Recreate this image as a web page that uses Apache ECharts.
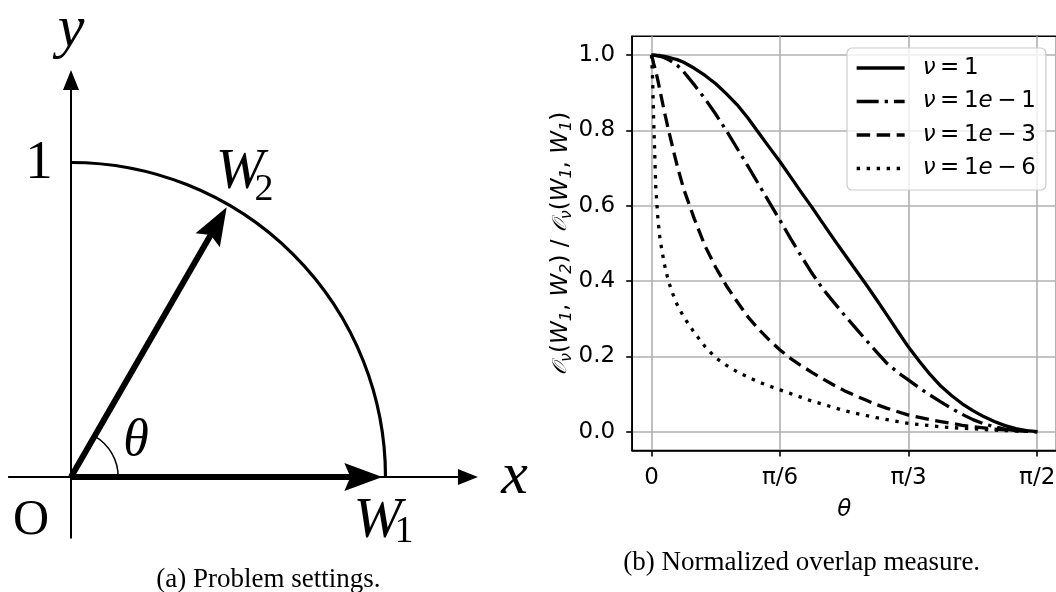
<!DOCTYPE html>
<html><head><meta charset="utf-8">
<script src="https://cdn.jsdelivr.net/npm/echarts@6/dist/echarts.min.js"></script>
<style>html,body{margin:0;padding:0;background:#fff;}#c{width:1056px;height:592px;}</style>
</head><body><div id="c"></div>
<script>
// ---------------- data ----------------
const thetaDeg = [0,0.25,0.5,1,1.5,2,3,4,5,6,7.5,10,12.5,15,17.5,20,22.5,25,27.5,30,32.5,35,37.5,40,42.5,45,47.5,50,52.5,55,57.5,60,62.5,65,67.5,70,72.5,75,77.5,80,82.5,85,87.5,90];
const nu1 = [1.000,1.000,1.000,1.000,0.999,0.999,0.997,0.994,0.991,0.988,0.981,0.965,0.946,0.924,0.897,0.868,0.833,0.794,0.755,0.717,0.676,0.635,0.595,0.553,0.512,0.472,0.432,0.392,0.351,0.309,0.266,0.224,0.187,0.152,0.121,0.096,0.074,0.056,0.040,0.027,0.016,0.008,0.003,0.000];
const nu1e1 = [1.000,1.000,1.000,0.999,0.998,0.997,0.993,0.988,0.981,0.973,0.956,0.921,0.884,0.843,0.799,0.752,0.705,0.657,0.609,0.561,0.512,0.465,0.420,0.379,0.344,0.310,0.277,0.244,0.212,0.181,0.157,0.137,0.116,0.097,0.079,0.062,0.046,0.032,0.021,0.013,0.007,0.003,0.001,0.000];
const nu1e3 = [1.000,0.990,0.978,0.957,0.932,0.905,0.850,0.800,0.752,0.706,0.645,0.565,0.493,0.436,0.387,0.345,0.305,0.272,0.243,0.217,0.194,0.175,0.157,0.140,0.124,0.109,0.096,0.084,0.072,0.062,0.053,0.044,0.038,0.032,0.027,0.022,0.017,0.013,0.010,0.007,0.005,0.003,0.001,0.000];
const nu1e6 = [1.000,0.940,0.830,0.650,0.565,0.510,0.445,0.398,0.365,0.337,0.305,0.263,0.226,0.196,0.176,0.159,0.145,0.132,0.121,0.111,0.101,0.091,0.081,0.073,0.064,0.056,0.049,0.043,0.037,0.032,0.027,0.022,0.019,0.016,0.013,0.011,0.009,0.008,0.006,0.004,0.003,0.002,0.001,0.000];
const seriesNames = ['ν\u2009=\u20091', 'ν\u2009=\u20091e\u2009−\u20091', 'ν\u2009=\u20091e\u2009−\u20093', 'ν\u2009=\u20091e\u2009−\u20096'];
const xTickValues = [0, 30, 60, 90];
const xTickLabels = ['0', 'π/6', 'π/3', 'π/2'];
const yTickValues = [0, 0.2, 0.4, 0.6, 0.8, 1.0];

// diagram (panel a), in unit-circle coordinates
const diagAngleDeg = 60;          // angle between W1 and W2
const diagVectorLength = 0.99;    // W1, W2 tips
const diagArcRadius = 1.0;        // quarter circle
const diagThetaArcRadius = 0.15;  // small angle arc
const diagXAxisSpan = [-0.2, 1.294];
const diagYAxisSpan = [-0.196, 1.294];

// ---------------- styles / layout ----------------
const SERIF = '"Liberation Serif", "DejaVu Serif", serif';
const SANS = '"DejaVu Sans", sans-serif';
const lineStyles = [
  { type: 'solid' },
  { type: [22, 6, 3.3, 6] },
  { type: [13.5, 6.5] },
  { type: [3.4, 6.6] }
];
const diagLabelLayout = [
  { name: 'y', at: [0, 1.421], size: 60, italic: true },
  { name: 'x', at: [1.41, 0.0], size: 60, italic: true },
  { name: '1', at: [-0.102, 0.998], size: 55, italic: false },
  { name: 'O', at: [-0.127, -0.14], size: 50, italic: false },
  { name: 'θ', at: [0.207, 0.114], size: 52, italic: true },
  { name: 'W', at: [0.537, 0.968], size: 58, italic: true },
  { name: '2', at: [0.614, 0.913], size: 38, italic: false },
  { name: 'W', at: [0.975, -0.143], size: 58, italic: true },
  { name: '1', at: [1.059, -0.175], size: 38, italic: false }
];

const chart = echarts.init(document.getElementById('c'), null, { renderer: 'canvas' });

const yName = '{o|𝒪}{s|ν}{n|(}{i|W}{s|1}{n|, }{i|W}{s|2}{n|) / }{o|𝒪}{s|ν}{n|(}{i|W}{s|1}{n|, }{i|W}{s|1}{n|)}';

const base = {
  animation: false,
  backgroundColor: '#fff',
  grid: [
    { left: 632.2, top: 36.3, width: 424.3, height: 414.2, show: true, borderColor: '#000', borderWidth: 1.6, backgroundColor: 'transparent', containLabel: false, outerBoundsMode: 'none' },
    { left: 8.1, top: 5.25, width: 534.65, height: 581.8, show: false, containLabel: false, outerBoundsMode: 'none' }
  ],
  xAxis: [
    {
      type: 'value', gridIndex: 0, min: -4.5, max: 94.5,
      axisLine: { show: true, onZero: false, lineStyle: { color: '#000', width: 1.6 } },
      axisTick: { show: true, length: 6, customValues: xTickValues, lineStyle: { color: '#000', width: 1.6 } },
      axisLabel: { customValues: xTickValues, margin: 16, color: '#000', fontSize: 23, fontFamily: SANS,
        formatter: v => xTickLabels[xTickValues.indexOf(Math.round(v))] || '' },
      splitLine: { show: true, lineStyle: { color: '#b0b0b0', width: 1.6 } },
      name: 'θ', nameLocation: 'middle', nameGap: 48,
      nameTextStyle: { fontFamily: SANS, fontSize: 23, fontStyle: 'italic', color: '#000' }
    },
    { type: 'value', gridIndex: 1, min: -0.2, max: 1.5, show: false }
  ],
  yAxis: [
    {
      type: 'value', gridIndex: 0, min: -0.05, max: 1.05,
      axisLine: { show: true, onZero: false, lineStyle: { color: '#000', width: 1.6 } },
      axisTick: { show: true, length: 6, customValues: yTickValues, lineStyle: { color: '#000', width: 1.6 } },
      axisLabel: { customValues: yTickValues, margin: 17, color: '#000', fontSize: 23, fontFamily: SANS,
        formatter: v => v.toFixed(1) },
      splitLine: { show: true, lineStyle: { color: '#b0b0b0', width: 1.6 } },
      name: yName, nameLocation: 'middle', nameGap: 57,
      nameTextStyle: {
        color: '#000', fontFamily: SANS, fontSize: 23,
        rich: {
          n: { fontFamily: SANS, fontSize: 23, color: '#000' },
          i: { fontFamily: SANS, fontSize: 23, fontStyle: 'italic', color: '#000' },
          o: { fontFamily: SANS, fontSize: 20, fontStyle: 'italic', color: '#000' },
          s: { fontFamily: SANS, fontSize: 16, fontStyle: 'italic', color: '#000', padding: [12, 0, 0, 0] }
        }
      }
    },
    { type: 'value', gridIndex: 1, min: -0.35, max: 1.5, show: false }
  ],
  legend: {
    data: seriesNames, orient: 'vertical', left: 847, top: 48,
    padding: [8.5, 10, 10, 8], itemGap: 10.5, itemWidth: 48, itemHeight: 23,
    backgroundColor: 'rgba(255,255,255,0.8)', borderColor: '#cccccc', borderWidth: 1.2, borderRadius: 5,
    itemStyle: { opacity: 0, color: 'rgba(0,0,0,0)', borderWidth: 0 },
    lineStyle: { width: 'inherit', type: 'inherit', color: 'inherit' },
    formatter: n => n.replace('ν', '{i|ν}').replace('e', '{i|e}'),
    textStyle: {
      fontFamily: SANS, fontSize: 23, color: '#000', padding: [0, 0, 0, 13],
      rich: { i: { fontFamily: SANS, fontSize: 23, fontStyle: 'italic', color: '#000' } }
    }
  },
  series: [nu1, nu1e1, nu1e3, nu1e6].map((vals, k) => ({
    name: seriesNames[k], type: 'line', xAxisIndex: 0, yAxisIndex: 0,
    data: thetaDeg.map((t, i) => [t, vals[i]]),
    showSymbol: false, symbol: 'none', smooth: false,
    lineStyle: Object.assign({ color: '#000', width: 3.3, join: 'round' }, lineStyles[k]),
    itemStyle: { color: '#000' }, silent: true
  }))
};
chart.setOption(base);

// ---------------- panel (a): drawn through grid 1's scales ----------------
const o = chart.convertToPixel({ xAxisIndex: 1, yAxisIndex: 1 }, [0, 0]);
const u = chart.convertToPixel({ xAxisIndex: 1, yAxisIndex: 1 }, [1, 1]);
const ppu = u[0] - o[0];
const a = diagAngleDeg * Math.PI / 180;
const w1Tip = [diagVectorLength, 0];
const w2Tip = [diagVectorLength * Math.cos(a), diagVectorLength * Math.sin(a)];
const back = (tip, dirDeg, px) => {
  const r = dirDeg * Math.PI / 180;
  return [tip[0] - Math.cos(r) * px / ppu, tip[1] - Math.sin(r) * px / ppu];
};
const axHead = [16, 20];
const vecHead = [28, 38];
const vecPath = 'path://M0 0L14 38L0 32L-14 38Z';
const seg = (p0, p1, w) => ({
  type: 'line', xAxisIndex: 1, yAxisIndex: 1, data: [p0, p1], symbol: 'none', silent: true,
  lineStyle: { color: '#000', width: w, cap: 'butt' }, z: 3
});
const xTip = [diagXAxisSpan[1], 0], yTip = [0, diagYAxisSpan[1]];
const extra = [
  seg([diagXAxisSpan[0], 0], back(xTip, 0, axHead[1] * 0.5), 2),
  seg([0, diagYAxisSpan[0]], back(yTip, 90, axHead[1] * 0.5), 2),
  seg([0, 0], back(w1Tip, 0, vecHead[1] * 0.6), 6),
  seg([0, 0], back(w2Tip, diagAngleDeg, vecHead[1] * 0.6), 6),
  {
    type: 'scatter', xAxisIndex: 1, yAxisIndex: 1, silent: true, z: 4,
    itemStyle: { color: '#000', opacity: 1 },
    data: [
      { value: back(xTip, 0, axHead[1] / 2), symbol: 'triangle', symbolSize: axHead, symbolRotate: -90 },
      { value: back(yTip, 90, axHead[1] / 2), symbol: 'triangle', symbolSize: axHead, symbolRotate: 0 },
      { value: back(w1Tip, 0, vecHead[1] / 2), symbol: vecPath, symbolSize: vecHead, symbolRotate: -90 },
      { value: back(w2Tip, diagAngleDeg, vecHead[1] / 2), symbol: vecPath, symbolSize: vecHead, symbolRotate: diagAngleDeg - 90 }
    ]
  },
  {
    type: 'scatter', xAxisIndex: 1, yAxisIndex: 1, silent: true, z: 5, symbolSize: 0,
    data: diagLabelLayout.map(l => ({
      name: l.name, value: l.at,
      label: { show: true, position: 'inside', formatter: '{b}', color: '#000', opacity: 1, textBorderWidth: 0,
        fontFamily: SERIF, fontSize: l.size, fontStyle: l.italic ? 'italic' : 'normal',
        align: 'center', verticalAlign: 'middle' }
    }))
  }
];
chart.setOption({ series: base.series.concat(extra) });

chart.setOption({
  graphic: [
    { type: 'arc', silent: true, z: 2,
      shape: { cx: o[0], cy: o[1], r: diagArcRadius * ppu, startAngle: -Math.PI / 2, endAngle: 0, clockwise: true },
      style: { stroke: '#000', lineWidth: 3.2, fill: null } },
    { type: 'arc', silent: true, z: 2,
      shape: { cx: o[0], cy: o[1], r: diagThetaArcRadius * ppu, startAngle: -a, endAngle: 0, clockwise: true },
      style: { stroke: '#000', lineWidth: 1.5, fill: null } },
    { type: 'text', x: 268.3, y: 580, silent: true,
      style: { text: '(a) Problem settings.', font: '27px ' + SERIF, fill: '#000', textAlign: 'center', textVerticalAlign: 'middle', align: 'center', verticalAlign: 'middle' } },
    { type: 'text', x: 801.7, y: 563.3, silent: true,
      style: { text: '(b) Normalized overlap measure.', font: '27px ' + SERIF, fill: '#000', textAlign: 'center', textVerticalAlign: 'middle', align: 'center', verticalAlign: 'middle' } }
  ]
});
</script></body></html>
